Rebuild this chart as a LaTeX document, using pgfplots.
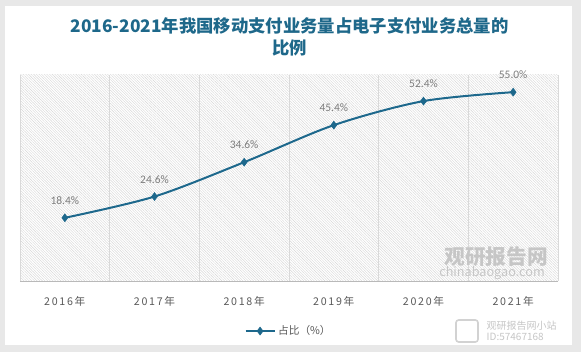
\documentclass[border=0pt]{standalone}
\usepackage{pgfplots}
\pgfplotsset{compat=1.18}
\usepackage{fontspec}
\usetikzlibrary{patterns.meta}
\setmainfont{Noto Sans CJK SC}
\newfontfamily\cjk{Noto Sans CJK SC}
\newfontfamily\cjktick[LetterSpace=16]{Noto Sans CJK SC}
\newfontfamily\lab{Carlito}
\definecolor{teal1}{RGB}{30,104,138}
\definecolor{linec}{RGB}{29,104,140}
\definecolor{tickc}{RGB}{89,89,89}
\definecolor{labc}{RGB}{125,125,125}
\begin{document}
\begin{tikzpicture}[x=0.75pt,y=0.75pt]
\fill[gray!18] (0,0) rectangle (581,352);
\fill[white] (5,7) rectangle (572,346);
\node[font=\cjk\bfseries\fontsize{13pt}{17pt}\selectfont, text=teal1, align=center] at (289.5,315) {2016-2021年我国移动支付业务量占电子支付业务总量的\\比例};
\begin{axis}[
  at={(15pt,53.25pt)}, anchor=south west,
  scale only axis, width=403.5pt, height=154.5pt,
  xmin=-0.5, xmax=5.5, ymin=0, ymax=60,
  axis line style={draw=none},
  axis background/.style={pattern={Lines[angle=-45,distance=1.4pt,line width=0.3pt]}, pattern color=gray!32},
  xtick={0,...,5},
  xticklabels={2016年,2017年,2018年,2019年,2020年,2021年},
  minor xtick={-0.5,0.5,...,5.5},
  xminorgrids=true,
  minor grid style={draw=gray!30, line width=0.6pt},
  ytick=\empty,
  major tick length=0pt, minor tick length=0pt,
  xticklabel style={font=\cjktick\fontsize{8pt}{9pt}\selectfont, text=tickc, anchor=center, yshift=-15pt},
  clip=false,
  legend style={at={(0.5,-0.243)}, anchor=center, draw=none, fill=none,
    font=\cjk\fontsize{8pt}{9pt}\selectfont, text=tickc, inner sep=0pt},
  legend image code/.code={\draw[mark repeat=2,mark phase=2] plot coordinates {(0cm,0cm)(0.38cm,0cm)(0.76cm,0cm)};},
  nodes near coords={\pgfplotspointmeta},
  point meta=explicit symbolic,
  every node near coord/.append style={font=\lab\fontsize{8.6pt}{9pt}\selectfont, text=labc, anchor=center, yshift=13pt},
]
\draw[gray!55, line width=0.7pt] (rel axis cs:0,0) -- (rel axis cs:1,0);
\addplot[color=linec, line width=1.5pt, smooth, mark=diamond*, mark size=2.9pt,
  mark options={fill=linec, line width=0.5pt}]
  coordinates {(0,18.4) [18.4\%] (1,24.6) [24.6\%] (2,34.6) [34.6\%] (3,45.4) [45.4\%] (4,52.4) [52.4\%] (5,55.0) [55.0\%]};
\addlegendentry{占比（\%）}
\end{axis}
\node[font=\cjk\bfseries\fontsize{15.5pt}{16pt}\selectfont, text=gray!45] at (496,95) {观研报告网};
\node[font=\cjk\fontsize{9.5pt}{10pt}\selectfont, text=gray!45] at (492,79) {chinabaogao.com};
\draw[gray!35, line width=1.2pt, rounded corners=2pt] (456,10) rectangle (478,32);
\node[font=\cjk\fontsize{7.5pt}{8pt}\selectfont, text=gray!45, align=left, anchor=west] at (482,21) {观研报告网小站\\ID:57467168};
\end{tikzpicture}
\end{document}
